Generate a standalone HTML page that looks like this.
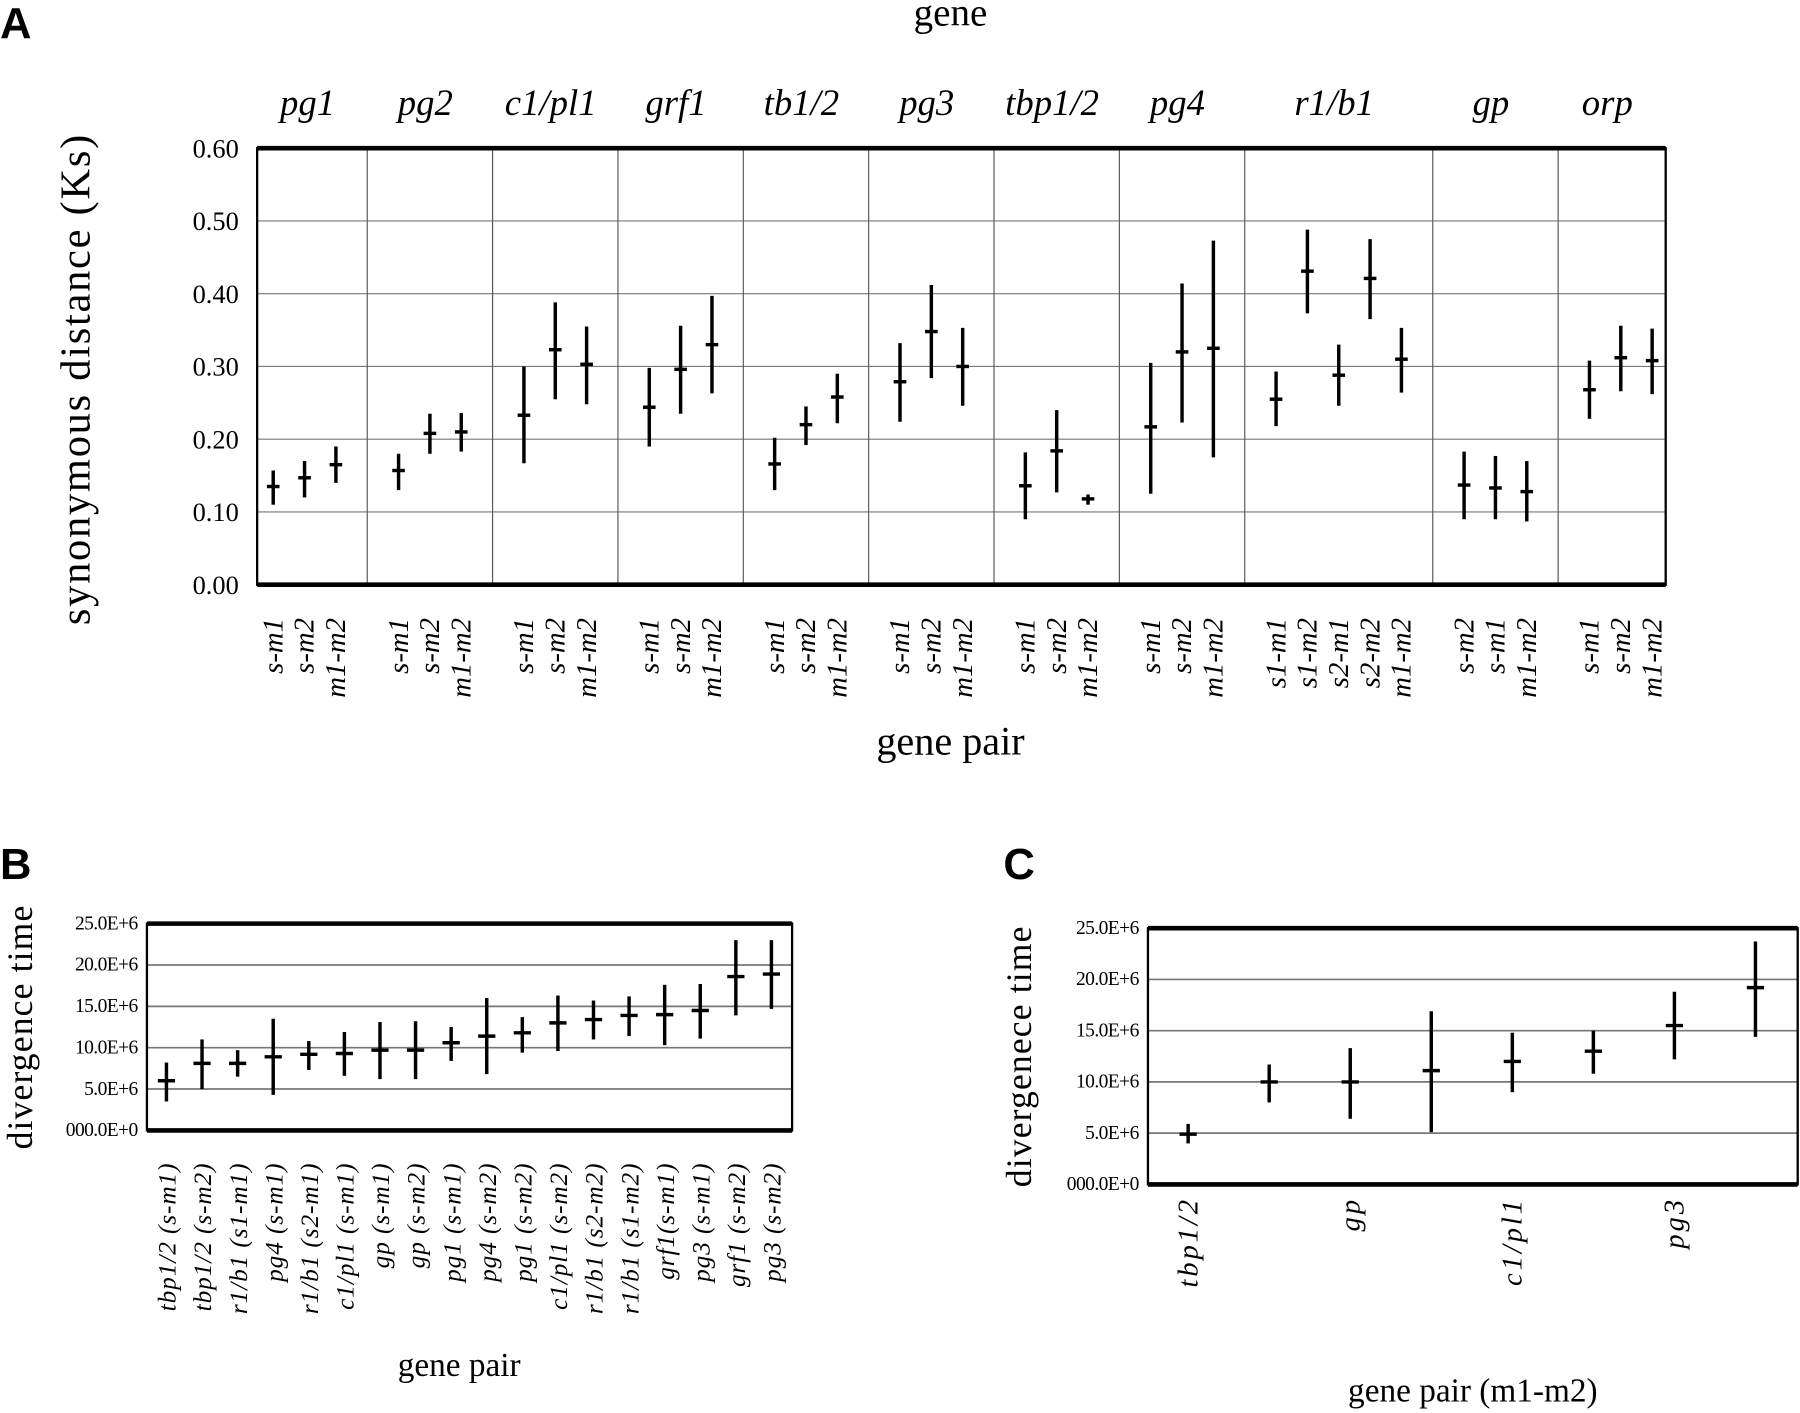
<!DOCTYPE html>
<html><head><meta charset="utf-8"><style>
html,body{margin:0;padding:0;background:#fff;}
svg{display:block;font-family:"Liberation Serif",serif;}
</style></head><body>
<svg id="fig" width="1800" height="1413" viewBox="0 0 1568 1230" preserveAspectRatio="none" xmlns="http://www.w3.org/2000/svg">
<text x="0" y="33" font-family="Liberation Sans, sans-serif" font-weight="bold" font-size="38">A</text>
<text x="828" y="22" font-size="34" text-anchor="middle">gene</text>
<text x="0" y="765" font-family="Liberation Sans, sans-serif" font-weight="bold" font-size="38">B</text>
<text x="874" y="765" font-family="Liberation Sans, sans-serif" font-weight="bold" font-size="38">C</text>
<g id="pa"></g>
<g id="pb"></g>
<g id="pc"></g>
</svg>
<script>
// Panel A data
const geneNames = ["pg1","pg2","c1/pl1","grf1","tb1/2","pg3","tbp1/2","pg4","r1/b1","gp","orp"];
const genePairs = [["s-m1","s-m2","m1-m2"],["s-m1","s-m2","m1-m2"],["s-m1","s-m2","m1-m2"],["s-m1","s-m2","m1-m2"],["s-m1","s-m2","m1-m2"],["s-m1","s-m2","m1-m2"],["s-m1","s-m2","m1-m2"],["s-m1","s-m2","m1-m2"],["s1-m1","s1-m2","s2-m1","s2-m2","m1-m2"],["s-m2","s-m1","m1-m2"],["s-m1","s-m2","m1-m2"]];
const ksMean = [[0.135,0.147,0.165],[0.157,0.208,0.21],[0.233,0.323,0.303],[0.244,0.296,0.33],[0.166,0.22,0.258],[0.279,0.348,0.30],[0.136,0.184,0.118],[0.217,0.32,0.325],[0.255,0.431,0.288,0.421,0.31],[0.137,0.133,0.128],[0.268,0.312,0.308]];
const ksLow = [[0.11,0.12,0.14],[0.13,0.18,0.183],[0.167,0.255,0.248],[0.19,0.235,0.263],[0.13,0.192,0.222],[0.224,0.284,0.246],[0.09,0.127,0.11],[0.125,0.223,0.175],[0.218,0.373,0.246,0.365,0.264],[0.09,0.09,0.087],[0.228,0.266,0.262]];
const ksHigh = [[0.157,0.17,0.19],[0.18,0.235,0.236],[0.30,0.388,0.355],[0.298,0.356,0.397],[0.202,0.245,0.29],[0.332,0.412,0.353],[0.182,0.24,0.124],[0.305,0.414,0.473],[0.293,0.488,0.33,0.475,0.353],[0.183,0.177,0.17],[0.308,0.356,0.352]];
const ksTicks = ["0.00","0.10","0.20","0.30","0.40","0.50","0.60"];
// Panel B data
const bPairs = ["tbp1/2 (s-m1)","tbp1/2 (s-m2)","r1/b1 (s1-m1)","pg4 (s-m1)","r1/b1 (s2-m1)","c1/pl1 (s-m1)","gp (s-m1)","gp (s-m2)","pg1 (s-m1)","pg4 (s-m2)","pg1 (s-m2)","c1/pl1 (s-m2)","r1/b1 (s2-m2)","r1/b1 (s1-m2)","grf1(s-m1)","pg3 (s-m1)","grf1 (s-m2)","pg3 (s-m2)"];
const bMean = [6.0,8.1,8.1,8.9,9.2,9.3,9.7,9.7,10.6,11.4,11.8,13.0,13.4,13.9,14.0,14.5,18.6,18.9];
const bLow = [3.5,5.0,6.5,4.3,7.3,6.6,6.2,6.2,8.4,6.8,9.4,9.6,11.0,11.4,10.3,11.1,13.9,14.7];
const bHigh = [8.2,11.0,9.7,13.5,10.8,11.9,13.1,13.2,12.5,16.0,13.7,16.3,15.7,16.2,17.6,17.7,23.0,23.0];
const divTicks = ["000.0E+0","5.0E+6","10.0E+6","15.0E+6","20.0E+6","25.0E+6"];
// Panel C data
const cPairs = ["tbp1/2","","gp","","c1/pl1","","pg3",""];
const cMean = [4.9,10.0,10.0,11.1,12.0,13.0,15.5,19.2];
const cLow = [4.0,8.0,6.4,5.1,9.0,10.8,12.2,14.4];
const cHigh = [5.9,11.7,13.3,16.9,14.8,15.0,18.8,23.7];

const NS="http://www.w3.org/2000/svg";
function mk(parent,tag,attrs,txt){const e=document.createElementNS(NS,tag);for(const k in attrs)e.setAttribute(k,attrs[k]);if(txt!==undefined)e.textContent=txt;parent.appendChild(e);return e;}

function errBar(g,x,yl,yh,ym,w,sw){
  const l=mk(g,'line',{x1:x,x2:x,y1:yl,y2:yh,stroke:'#000','stroke-width':sw});
  
  
  const m=mk(g,'line',{x1:x-w/2,x2:x+w/2,y1:ym,y2:ym,stroke:'#000','stroke-width':sw});
  
  
}

// Panel A
(function(){
  const g=document.getElementById('pa');
  const L=224,R=1451,T=129,B=509;
  const y=v=>B-(v/0.6)*(B-T);
  const step=27.3,x0=238;
  const xa=(i,gi)=>x0+step*(i+gi);
  ksTicks.forEach((t,i)=>{const v=i*0.1;
    if(i>0&&i<6){const gl=mk(g,'line',{x1:L,x2:R,y1:y(v),y2:y(v),stroke:'#777','stroke-width':1});
      
      }
    const tl=mk(g,'text',{x:208,y:y(v)+8,'font-size':23,'text-anchor':'end'},t);
    
    
  });
  let idx=0;
  geneNames.forEach((name,gi)=>{
    const n=genePairs[gi].length;
    const first=xa(idx,gi), last=xa(idx+n-1,gi);
    const left=gi===0?L:first-step, right=gi===geneNames.length-1?R:last+step;
    const gl=mk(g,'text',{x:(left+right)/2-4,y:100,'font-size':32,'font-style':'italic','text-anchor':'middle'},name);
    
    
    if(gi>0){const sx=first-step; const sl=mk(g,'line',{x1:sx,x2:sx,y1:T,y2:B,stroke:'#555','stroke-width':1});
      
      }
    genePairs[gi].forEach((p,j)=>{
      const x=xa(idx+j,gi);
      errBar(g,x,y(ksLow[gi][j]),y(ksHigh[gi][j]),y(ksMean[gi][j]),11,3);
      const t=mk(g,'text',{transform:`translate(${x+8},538) rotate(-90)`,'font-size':25,'font-style':'italic','text-anchor':'end'},p);
      
      
    });
    idx+=n;
  });
  const fr=mk(g,'rect',{x:L,y:T,width:R-L,height:B-T,fill:'none',stroke:'#000','stroke-width':2});
  
  
  mk(g,'line',{x1:L,x2:R,y1:T,y2:T,stroke:'#000','stroke-width':4});
  mk(g,'line',{x1:L,x2:R,y1:B,y2:B,stroke:'#000','stroke-width':4});
  const yt=mk(g,'text',{transform:'translate(78,330) rotate(-90)','font-size':37,'letter-spacing':'1.5','text-anchor':'middle'},'synonymous distance (Ks)');
  
  
  const xt=mk(g,'text',{x:828,y:657,'font-size':35,'text-anchor':'middle'},'gene pair');
  
  
})();

function divPanel(gid,L,R,T,B,x0,step,pairs,mean,low,high,opts){
  const g=document.getElementById(gid);
  const y=v=>B-(v/25)*(B-T);
  const x=i=>x0+step*i;
  divTicks.forEach((t,i)=>{const v=i*5;
    if(i>0&&i<5){const gl=mk(g,'line',{x1:L,x2:R,y1:y(v),y2:y(v),stroke:'#777','stroke-width':1.5});
      
      }
    const tl=mk(g,'text',{x:L-8,y:y(v)+5,'font-size':17,'text-anchor':'end','letter-spacing':'-0.5'},t);
    
    
  });
  pairs.forEach((p,i)=>{
    errBar(g,x(i),y(low[i]),y(high[i]),y(mean[i]),opts.mw,3);
    if(p){const t=mk(g,'text',{transform:`translate(${x(i)+8},${opts.labTop}) rotate(-90)`,'font-size':opts.labSize,'letter-spacing':opts.ls,'font-style':'italic','text-anchor':'end'},p);
      
      }
  });
  const fr=mk(g,'rect',{x:L,y:T,width:R-L,height:B-T,fill:'none',stroke:'#000','stroke-width':2});
  
  
  mk(g,'line',{x1:L,x2:R,y1:T,y2:T,stroke:'#000','stroke-width':4});
  mk(g,'line',{x1:L,x2:R,y1:B,y2:B,stroke:'#000','stroke-width':4});
  const yt=mk(g,'text',{transform:`translate(${opts.ytx},${(T+B)/2}) rotate(-90)`,'font-size':31,'letter-spacing':'1','text-anchor':'middle'},opts.ytitle);
  
  
  const xt=mk(g,'text',{x:opts.xtx,y:opts.xty,'font-size':29,'text-anchor':'middle'},opts.xtitle);
  
  
}
divPanel('pb',128,690,804,984,145,31,bPairs,bMean,bLow,bHigh,{mw:15,labTop:1012,labSize:22,ls:'0.8',ytx:28,ytitle:'divergence time',xtx:400,xty:1198,xtitle:'gene pair'});
divPanel('pc',1000,1566,808,1031,1035,70.6,cPairs,cMean,cLow,cHigh,{mw:15,labTop:1042,labSize:25,ls:'2.5',ytx:898,ytitle:'divergenece time',xtx:1283,xty:1220,xtitle:'gene pair (m1-m2)'});
</script>
</body></html>
